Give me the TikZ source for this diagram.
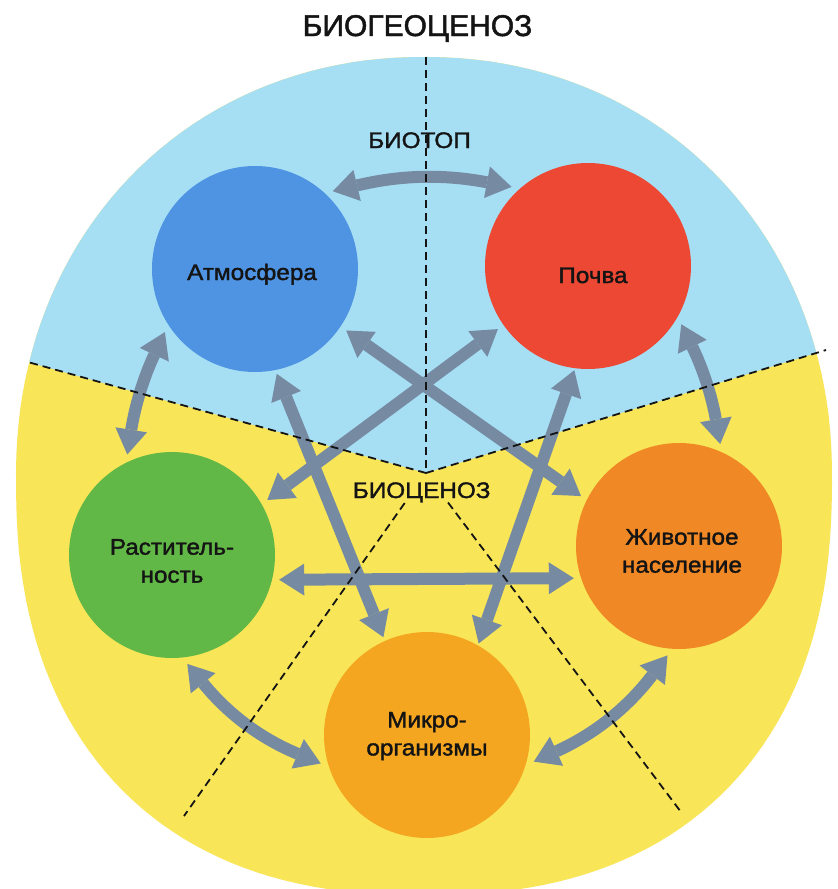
\documentclass[tikz,border=0pt]{standalone}
\usepackage{fontspec}
\setmainfont{Liberation Sans}[FakeBold=1.6]
\newfontfamily\lblfont{Liberation Sans}[FakeStretch=1.08,FakeBold=1.6]
\usetikzlibrary{arrows.meta}
\definecolor{bgblue}{RGB}{166,222,244}
\definecolor{bgyellow}{RGB}{249,230,88}
\definecolor{atmc}{RGB}{78,148,226}
\definecolor{pocc}{RGB}{236,72,52}
\definecolor{rastc}{RGB}{98,184,70}
\definecolor{zhivc}{RGB}{240,136,38}
\definecolor{micc}{RGB}{245,166,32}
\definecolor{arrowc}{RGB}{118,138,162}
\definecolor{inkc}{RGB}{20,20,20}
\tikzset{
  blob/.style={circle, minimum size=206pt, inner sep=0pt, outer sep=7pt},
  link/.style={draw=arrowc, line width=12pt,
    {Triangle[width=32pt,length=25pt,line width=0pt]}-{Triangle[width=32pt,length=25pt,line width=0pt]}},
  sepline/.style={draw=inkc, line width=1.8pt, dash pattern=on 8pt off 5pt},
  lbl/.style={font=\lblfont\fontsize{22.5}{28}\selectfont, align=center, inner sep=0pt, text=inkc},
}
\begin{document}
\begin{tikzpicture}[x=1pt,y=-1pt]
\clip (0,0) rectangle (838,889);
\fill[white] (0,0) rectangle (838,889);
% big rounded region
\fill[bgyellow] plot[domain=0.5:360.5, samples=181]
  ({424+408*sign(cos(\x))*pow(abs(cos(\x)),ifthenelse(sin(\x)<0,0.96,0.851))},
   {476+419*sign(sin(\x))*pow(abs(sin(\x)),ifthenelse(sin(\x)<0,0.96,0.851))}) -- cycle;
\begin{scope}
  \clip plot[domain=0.5:360.5, samples=181]
  ({424+408*sign(cos(\x))*pow(abs(cos(\x)),ifthenelse(sin(\x)<0,0.96,0.851))},
   {476+419*sign(sin(\x))*pow(abs(sin(\x)),ifthenelse(sin(\x)<0,0.96,0.851))}) -- cycle;
  \fill[bgblue] (426,473) -- (-20,348.7) -- (-20,-10) -- (860,-10) -- (860,339.5) -- cycle;
\end{scope}
% circles
\node[blob, fill=atmc] (atm) at (255,269) {};
\node[blob, fill=pocc] (poc) at (588,266) {};
\node[blob, fill=rastc] (rast) at (172,555) {};
\node[blob, fill=zhivc] (zhiv) at (679,546) {};
\node[blob, fill=micc] (mic) at (427,735) {};
% connectors
\draw[link] (atm.45) to[bend left=12] (poc.134);
\draw[link] (atm.215) to[bend right=8] (rast.114);
\draw[link] (poc.-32) to[bend left=8] (zhiv.68);
\draw[link] (rast.-82) to[bend right=14] (mic.195);
\draw[link] (zhiv.-96) to[bend left=14] (mic.-14);
\draw[link] (rast.-13) -- (zhiv.197);
\draw[link] (atm.-34) -- (zhiv.153);
\draw[link] (poc.215) -- (rast.30);
\draw[link, shorten <=-3pt, shorten >=-3pt] (atm.-78) -- (mic.114.5);
\draw[link, shorten <=-5pt, shorten >=-5pt] (poc.-98) -- (mic.61.6);
% dashed boundaries
\coordinate (O) at (426,473);
\draw[sepline] (426,57) -- (O);
\draw[sepline] (O) -- (26,361.5);
\draw[sepline] (O) -- (826,350);
\draw[sepline] (404.7,503) -- (184,816);
\draw[sepline] (448,502.5) -- (681,812);
% texts
\node[font=\fontsize{30}{36}\selectfont, anchor=base, inner sep=0pt, text=inkc] (title) at (417.5,36) {БИОГЕОЦЕНОЗ};
\node[lbl, anchor=base] (biotop) at (419.5,148) {БИОТОП};
\node[lbl, anchor=base] (biocen) at (421.7,498) {БИОЦЕНОЗ};
\node[lbl, anchor=base] (atmT) at (252,280) {Атмосфера};
\node[lbl, anchor=base] (pocT) at (593,283) {Почва};
\node[lbl] (rastT) at (172,561) {Раститель-\\ность};
\node[lbl] (zhivT) at (682,551) {Животное\\население};
\node[lbl] (micT) at (427,736) {Микро-\\организмы};
\end{tikzpicture}
\end{document}
